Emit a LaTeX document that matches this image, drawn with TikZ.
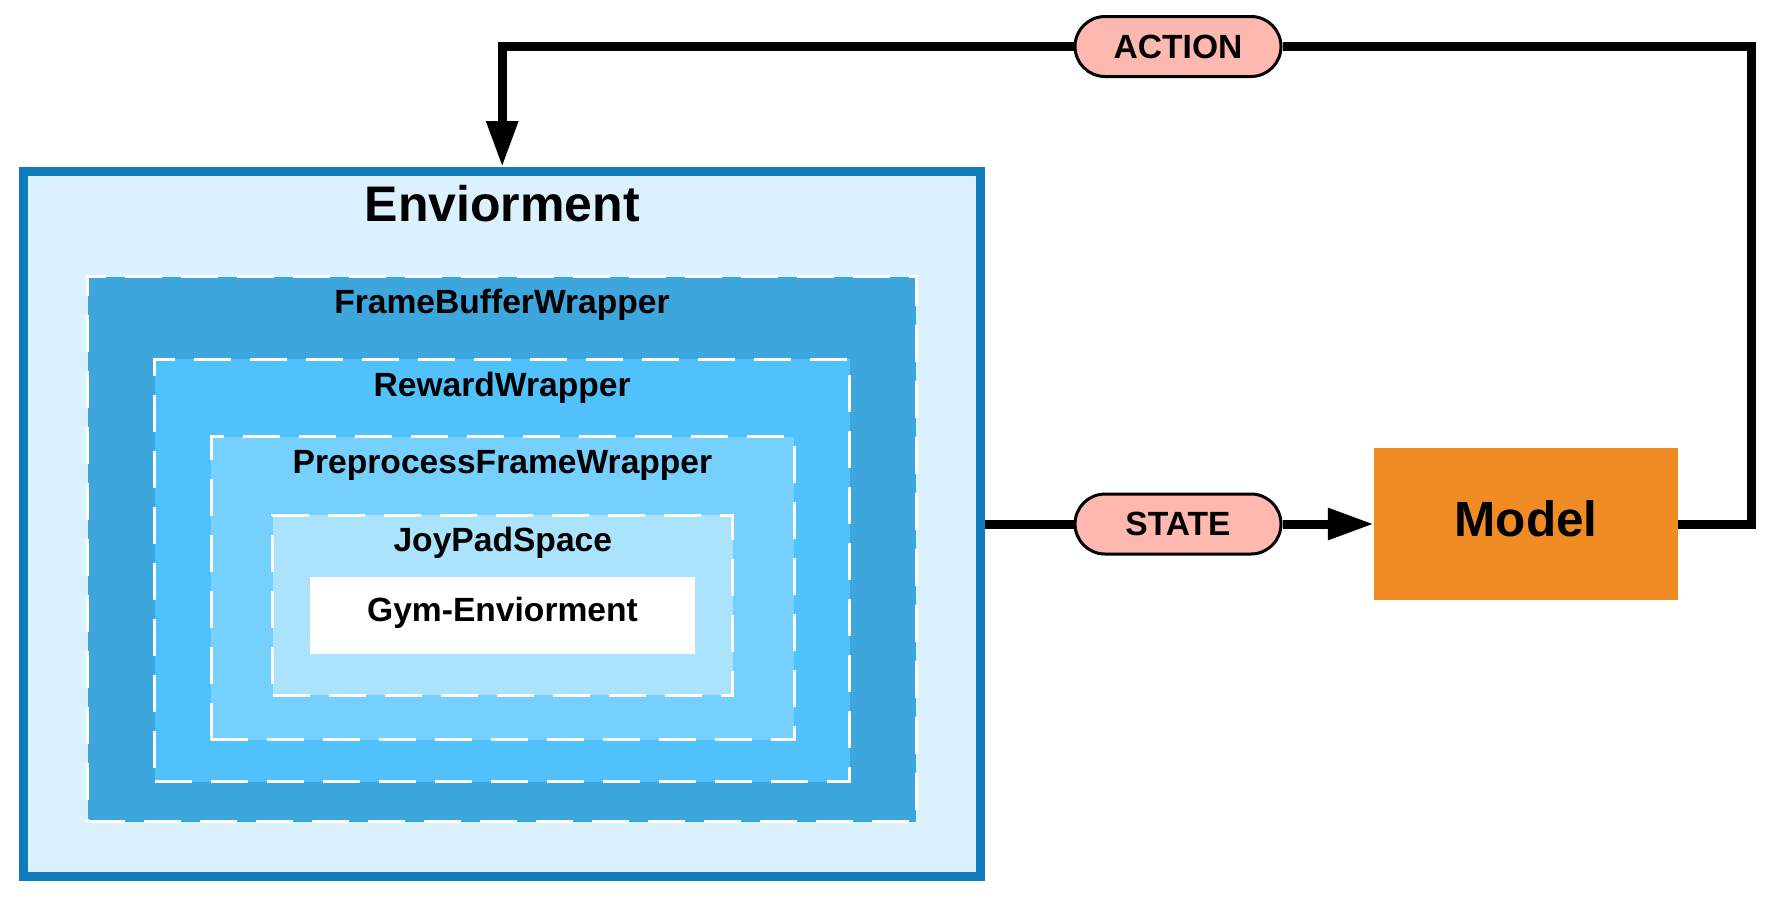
\documentclass[tikz,border=0pt]{standalone}
\usepackage{fontspec}
\setmainfont{Liberation Sans}
\usetikzlibrary{arrows.meta,shapes.misc}
\definecolor{envfill}{HTML}{DBF1FD}
\definecolor{envline}{HTML}{0F7DBB}
\definecolor{fbfill}{HTML}{3DA6DD}
\definecolor{rwfill}{HTML}{50C1FA}
\definecolor{ppfill}{HTML}{76D0FD}
\definecolor{jpfill}{HTML}{ABE3FC}
\definecolor{modelfill}{HTML}{F08C23}
\definecolor{pillfill}{HTML}{FFB8AF}
\tikzset{
  wrapbox/.style={draw=white,line width=3pt,dash pattern=on 37pt off 19pt,inner sep=0pt},
  title/.style={anchor=base,font=\fontsize{33.6}{40}\selectfont\bfseries},
  pill/.style={rounded rectangle,draw=black,line width=3pt,fill=pillfill,minimum width=206pt,minimum height=60pt,inner sep=0pt,font=\fontsize{33.6}{40}\selectfont\bfseries},
  link/.style={line width=9pt},
  tip/.style={-{Triangle[length=46pt,width=30pt]}}
}
\begin{document}
\begin{tikzpicture}[x=1pt,y=-1pt]
\useasboundingbox (0,0) rectangle (1776,900);
\node[draw=envline,fill=envfill,line width=9.3pt,minimum width=957pt,minimum height=704.7pt] (env) at (502.2,524) {};
\node[wrapbox,fill=fbfill,minimum width=828.7pt,minimum height=544.7pt] (fb) at (502,549.3) {};
\node[wrapbox,fill=rwfill,minimum width=694.8pt,minimum height=422.5pt] (rw) at (502.1,570.3) {};
\node[wrapbox,fill=ppfill,minimum width=583pt,minimum height=303.3pt] (pp) at (502.5,588.3) {};
\node[wrapbox,fill=jpfill,minimum width=460.3pt,minimum height=180pt] (jp) at (502.8,605.3) {};
\node[fill=white,minimum width=385pt,minimum height=76.7pt] (gym) at (502.5,615.3) {};
\node[title,font=\fontsize{50}{60}\selectfont\bfseries] (envtitle) at (502.2,221.7) {Enviorment};
\node[title] (fbtitle) at (502,313.3) {FrameBufferWrapper};
\node[title] (rwtitle) at (502.1,396) {RewardWrapper};
\node[title] (pptitle) at (502.5,473.3) {PreprocessFrameWrapper};
\node[title] (jptitle) at (502.8,551.7) {JoyPadSpace};
\node[title] (gymtitle) at (502.5,621.7) {Gym-Enviorment};
\node[fill=modelfill,minimum width=304pt,minimum height=152pt,text depth=10pt,font=\fontsize{49.5}{58}\selectfont\bfseries] (model) at (1526,524) {Model};
\node[pill] (state) at (1178,524) {STATE};
\node[pill] (action) at (1178,46.5) {ACTION};
\draw[link] (env.east) -- (state.west);
\draw[link,tip] (state.east) -- (model.west);
\draw[link] (model.east) -- ++(73.5,0) |- (action.east);
\draw[link,tip] (action.west) -| (env.north);
\end{tikzpicture}
\end{document}
